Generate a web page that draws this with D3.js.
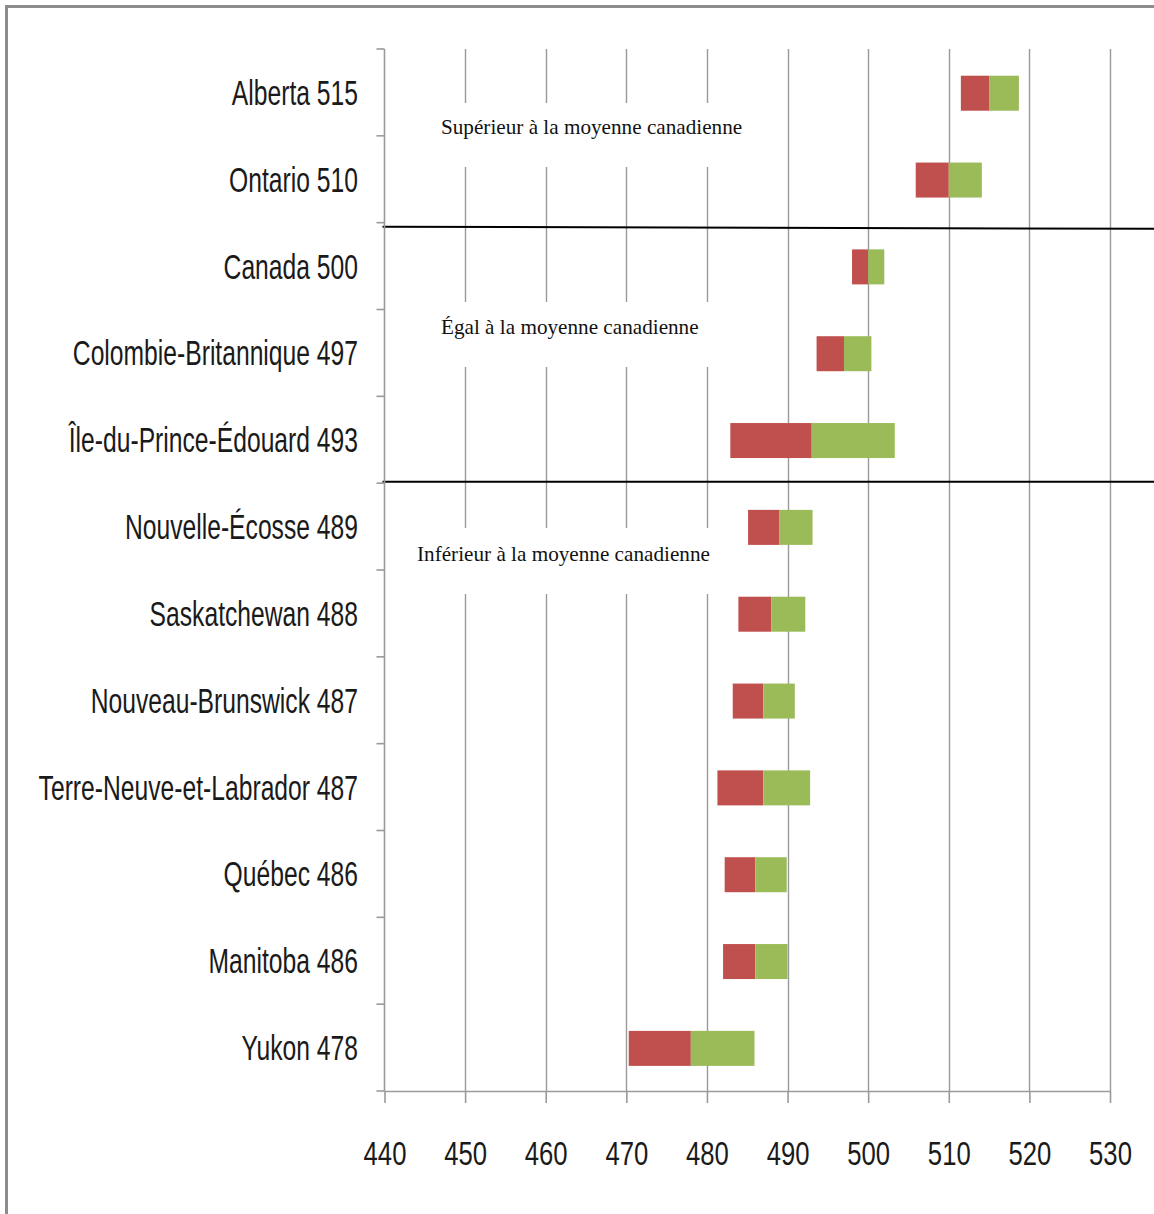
<!DOCTYPE html>
<html lang="fr">
<head>
<meta charset="utf-8">
<script src="https://cdn.jsdelivr.net/npm/d3@7"></script>
<style>
  html, body { margin: 0; padding: 0; background: #fff; }
  svg { display: block; }
</style>
</head>
<body>
<svg id="chart" width="1154" height="1214"></svg>
<script>
// Provinces / territoires, score moyen et intervalle de confiance
const provinces = ["Alberta", "Ontario", "Canada", "Colombie-Britannique", "Île-du-Prince-Édouard",
  "Nouvelle-Écosse", "Saskatchewan", "Nouveau-Brunswick", "Terre-Neuve-et-Labrador",
  "Québec", "Manitoba", "Yukon"];
const means = [515, 510, 500, 497, 493, 489, 488, 487, 487, 486, 486, 478];
const lower = [511.5, 505.9, 498.0, 493.6, 482.9, 485.1, 483.9, 483.2, 481.3, 482.2, 482.0, 470.3];
const upper = [518.7, 514.1, 502.0, 500.4, 503.3, 493.1, 492.2, 490.9, 492.8, 489.9, 490.0, 485.9];
const xTicks = [440, 450, 460, 470, 480, 490, 500, 510, 520, 530];
const zoneLabels = ["Supérieur à la moyenne canadienne", "Égal à la moyenne canadienne",
  "Inférieur à la moyenne canadienne"];

const rows = provinces.map((p, i) => ({ name: p, mean: means[i], lo: lower[i], hi: upper[i] }));

const svg = d3.select("#chart");
const W = 1154, H = 1214;
const plot = { left: 384.5, right: 1110, top: 49, bottom: 1091 };

const x = d3.scaleLinear().domain([xTicks[0], xTicks[xTicks.length - 1]]).range([plot.left, plot.right]);
const y = d3.scaleBand().domain(provinces).range([plot.top, plot.bottom]).paddingInner(0).paddingOuter(0);

const axisGrey = "#9a9a9a";
const red = "#C0504D", green = "#9BBB59";
const labelFont = "'Liberation Sans', Arial, sans-serif";

// Cadre extérieur
svg.append("rect")
  .attr("x", 6.5).attr("y", 6.5).attr("width", W + 20).attr("height", H + 20)
  .attr("fill", "#fff").attr("stroke", "#8c8c8c").attr("stroke-width", 3);

// Lignes de quadrillage verticales
svg.append("g").selectAll("line")
  .data(xTicks.slice(1))
  .join("line")
  .attr("x1", d => Math.round(x(d)) + 0.5).attr("x2", d => Math.round(x(d)) + 0.5)
  .attr("y1", plot.top).attr("y2", plot.bottom)
  .attr("stroke", axisGrey).attr("stroke-width", 1.4);

// Zones d'annotation (fond blanc qui masque le quadrillage)
const zones = [
  { text: zoneLabels[0], bx: 428, by: 103, bw: 332, bh: 64, tx: 441, ty: 134 },
  { text: zoneLabels[1], bx: 428, by: 302, bw: 332, bh: 65, tx: 441, ty: 334 },
  { text: zoneLabels[2], bx: 405, by: 528, bw: 350, bh: 66, tx: 417, ty: 561 }
];
const zg = svg.append("g");
zg.selectAll("rect").data(zones).join("rect")
  .attr("x", d => d.bx).attr("y", d => d.by).attr("width", d => d.bw).attr("height", d => d.bh)
  .attr("fill", "#fff");
zg.selectAll("g").data(zones).join("g")
  .attr("transform", d => `translate(${d.tx}, ${d.ty}) scale(1.06, 1)`)
  .append("text")
  .attr("font-family", "'Liberation Serif', 'Times New Roman', serif")
  .attr("font-size", 20).attr("fill", "#111")
  .text(d => d.text);

// Barres : borne inférieure -> moyenne (rouge), moyenne -> borne supérieure (vert)
const barH = 35;
const bars = svg.append("g");
bars.selectAll("rect.lo").data(rows).join("rect")
  .attr("class", "lo")
  .attr("x", d => x(d.lo)).attr("width", d => x(d.mean) - x(d.lo))
  .attr("y", d => y(d.name) + y.bandwidth() / 2 - barH / 2 + 0.8).attr("height", barH)
  .attr("fill", red);
bars.selectAll("rect.hi").data(rows).join("rect")
  .attr("class", "hi")
  .attr("x", d => x(d.mean)).attr("width", d => x(d.hi) - x(d.mean))
  .attr("y", d => y(d.name) + y.bandwidth() / 2 - barH / 2 + 0.8).attr("height", barH)
  .attr("fill", green);

// Séparateurs entre groupes
const b2 = y(provinces[2]), b5 = y(provinces[5]);
svg.append("line").attr("x1", plot.left - 2).attr("x2", W + 2)
  .attr("y1", b2 + 4).attr("y2", b2 + 6.2)
  .attr("stroke", "#000").attr("stroke-width", 2);
svg.append("line").attr("x1", plot.left - 2).attr("x2", W + 2)
  .attr("y1", b5 - 1.5).attr("y2", b5 - 1.5)
  .attr("stroke", "#000").attr("stroke-width", 2);

// Axe vertical (catégories) avec graduations entre les bandes
const yAxis = svg.append("g");
yAxis.append("line")
  .attr("x1", plot.left).attr("x2", plot.left)
  .attr("y1", plot.top).attr("y2", plot.bottom)
  .attr("stroke", axisGrey).attr("stroke-width", 1.6);
const bounds = provinces.map(p => y(p)).concat([plot.bottom]);
yAxis.selectAll("line.tk").data(bounds).join("line")
  .attr("class", "tk")
  .attr("x1", plot.left - 8).attr("x2", plot.left)
  .attr("y1", d => d).attr("y2", d => d)
  .attr("stroke", axisGrey).attr("stroke-width", 1.6);

// Étiquettes des catégories (police étroite : compression horizontale)
const labelScale = 0.705;
yAxis.selectAll("g.lab").data(rows).join("g")
  .attr("class", "lab")
  .attr("transform", d => `translate(358, ${y(d.name) + y.bandwidth() / 2 + 12.5}) scale(${labelScale}, 1)`)
  .append("text")
  .attr("text-anchor", "end")
  .attr("font-family", labelFont)
  .attr("font-size", 35).attr("fill", "#1a1a1a")
  .text(d => `${d.name} ${d.mean}`);

// Axe horizontal
const xAxis = d3.axisBottom(x).tickValues(xTicks).tickSize(12).tickSizeOuter(0).tickFormat(d3.format("d"));
const gx = svg.append("g").attr("transform", `translate(0, ${plot.bottom})`).call(xAxis);
gx.select(".domain").attr("stroke", axisGrey).attr("stroke-width", 1.6);
gx.selectAll(".tick line").attr("stroke", axisGrey).attr("stroke-width", 1.6);
gx.selectAll(".tick text").remove();
gx.selectAll(".tick").append("g")
  .attr("transform", "translate(0, 74) scale(0.79, 1)")
  .append("text")
  .attr("text-anchor", "middle")
  .attr("font-family", labelFont)
  .attr("font-size", 32.5).attr("fill", "#1a1a1a")
  .text(d => d);
</script>
</body>
</html>
